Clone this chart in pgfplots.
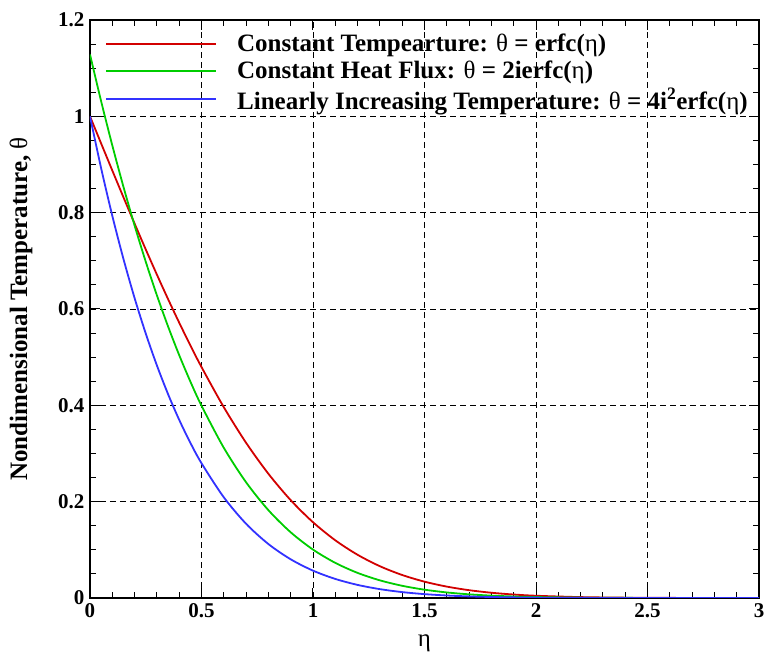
\documentclass[border=0pt]{standalone}
\usepackage{fontspec}
\setmainfont{Liberation Serif}
\usepackage{pgfplots}
\pgfplotsset{compat=1.18}
\usepackage{pgfplotstable}
\definecolor{cred}{RGB}{210,0,0}
\definecolor{cgreen}{RGB}{0,205,0}
\definecolor{cblue}{RGB}{50,50,255}
\pgfplotstableread{
x erfc ierfc itwo
0    1.000000 1.128379 1.000000
0.05 0.943628 1.031199 0.892068
0.1  0.887537 0.939645 0.793573
0.15 0.832004 0.853673 0.703953
0.2  0.777297 0.773216 0.622654
0.25 0.723674 0.698179 0.549129
0.3  0.671373 0.628438 0.482841
0.35 0.620618 0.563854 0.423269
0.4  0.571608 0.504258 0.369905
0.45 0.524518 0.449466 0.322259
0.5  0.479500 0.399282 0.279859
0.6  0.396144 0.311870 0.209023
0.7  0.322199 0.240196 0.154062
0.8  0.257899 0.182348 0.112021
0.9  0.203092 0.136404 0.080328
1.0  0.157299 0.100510 0.056789
1.1  0.119795 0.072930 0.039571
1.2  0.089686 0.052096 0.027172
1.3  0.065992 0.036628 0.018375
1.4  0.047715 0.025338 0.012242
1.5  0.033895 0.017244 0.008028
1.6  0.023652 0.011542 0.005185
1.7  0.016210 0.007596 0.003297
1.8  0.010909 0.004920 0.002053
1.9  0.007210 0.003126 0.001270
2.0  0.004678 0.001954 0.000770
2.2  0.001863 0.000724 0.000250
2.4  0.000689 0.000248 0.000080
2.6  0.000236 0.000080 0.000020
2.8  0.000075 0.000010 0.000005
3.0  0.000022 0.000002 0.000001
}\datatab
\begin{document}
\begin{tikzpicture}
\begin{axis}[
  scale only axis,
  width=669pt, height=578pt,
  xmin=0, xmax=3, ymin=0, ymax=1.2,
  xtick={0,0.5,...,3}, ytick={0,0.2,...,1.2},
  minor x tick num=4, minor y tick num=3,
  tick align=inside,
  major tick length=10pt, minor tick length=6pt,
  every tick/.style={black, line width=1pt},
  axis line style={line width=2.5pt},
  grid=major,
  major grid style={black, line width=0.8pt, dash pattern=on 6pt off 4pt},
  /pgf/number format/assume math mode=true,
  tick label style={font=\fontsize{21}{24}\selectfont\bfseries},
  xticklabel style={yshift=-2pt},
  yticklabel style={xshift=-2pt},
  xlabel={\fontsize{25}{28}\selectfont η},
  ylabel={\fontsize{25}{28}\selectfont\bfseries Nondimensional Temperature, \mdseries θ},
  xlabel style={at={(axis description cs:0.5,0)}, anchor=north, yshift=-33pt},
  ylabel style={at={(axis description cs:0,0.5)}, anchor=south, yshift=54pt},
  legend style={at={(axis cs:0,1.2)}, anchor=north west, draw=none, fill=none,
    font=\fontsize{25}{28}\selectfont\bfseries, row sep=4pt, xshift=12pt, yshift=-10pt,
    legend cell align=left},
  legend image code/.code={\draw[#1, line width=2pt] (0pt,0pt) -- (110pt,0pt);},
]
\addplot[cred, line width=1.8pt, smooth] table[x=x, y=erfc] {\datatab};
\addlegendentry{\hspace{18pt}Constant Tempearture: \mdseries θ \bfseries = erfc(\mdseries η\bfseries)}
\addplot[cgreen, line width=1.8pt, smooth] table[x=x, y=ierfc] {\datatab};
\addlegendentry{\hspace{18pt}Constant Heat Flux: \mdseries θ \bfseries = 2ierfc(\mdseries η\bfseries)}
\addplot[cblue, line width=1.8pt, smooth] table[x=x, y=itwo] {\datatab};
\addlegendentry{\hspace{18pt}Linearly Increasing Temperature: \mdseries θ \bfseries = 4i\textsuperscript{2}erfc(\mdseries η\bfseries)}
\end{axis}
\pgfresetboundingbox
\path (-90pt,-63pt) rectangle (674pt,598pt);
\end{tikzpicture}
\end{document}
